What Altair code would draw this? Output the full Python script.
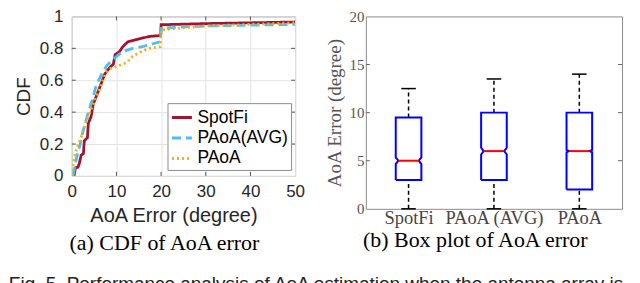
import altair as alt
import pandas as pd

# ---------------- data ----------------
series_names = ["SpotFi", "PAoA(AVG)", "PAoA"]
series_colors = ["#A2142F", "#4DBEEE", "#EDB120"]
series_dash = [[1, 0], [9, 5], [2, 3]]

spotfi_x = [0.5, 0.8, 1.4, 1.7, 2.1, 2.6, 2.8, 3.5, 3.7, 4.3, 4.8, 5.9, 6.6, 7.4, 8.5, 9.3, 9.7, 10.7, 11.4, 12.5, 15.2, 17.4, 19.9, 20.0, 30.0, 40.0, 50.0]
spotfi_y = [0.0, 0.05, 0.055, 0.08, 0.13, 0.14, 0.22, 0.24, 0.33, 0.37, 0.45, 0.53, 0.58, 0.64, 0.68, 0.70, 0.76, 0.78, 0.81, 0.84, 0.86, 0.875, 0.88, 0.948, 0.955, 0.96, 0.965]

avg_x = [0.3, 0.7, 1.2, 1.8, 2.5, 3.6, 4.5, 5.5, 6.7, 7.8, 9.2, 11.4, 13.6, 15.8, 19.0, 19.8, 20.0, 25.0, 30.0, 40.0, 50.0]
avg_y = [0.0, 0.06, 0.13, 0.19, 0.28, 0.39, 0.47, 0.57, 0.64, 0.69, 0.73, 0.78, 0.80, 0.81, 0.835, 0.84, 0.925, 0.935, 0.94, 0.945, 0.95]

paoa_x = [0.0, 0.3, 1.0, 2.2, 3.3, 4.8, 6.3, 7.7, 8.8, 10.0, 12.2, 13.6, 15.2, 17.4, 19.8, 20.0, 25.6, 30.0, 40.0, 50.0]
paoa_y = [0.0, 0.08, 0.165, 0.25, 0.35, 0.45, 0.55, 0.65, 0.675, 0.685, 0.71, 0.75, 0.775, 0.80, 0.81, 0.915, 0.93, 0.94, 0.95, 0.96]

cdf_x_ticks = [0, 10, 20, 30, 40, 50]
cdf_y_ticks = [0, 0.2, 0.4, 0.6, 0.8, 1]

box_cats = ["SpotFi", "PAoA (AVG)", "PAoA"]
box_q1 = [3, 3, 2]
box_med = [5, 6, 6]
box_q3 = [9.5, 10, 10]
box_lo = [0, 0, 0]
box_hi = [12.5, 13.5, 14]
box_notch = [0.35, 0.35, 0.12]
box_y_ticks = [0, 5, 10, 15, 20]

SANS = "Liberation Sans"
SERIF = "Liberation Serif"

# ---------------- left: CDF ----------------
rows = []
for name, xs, ys in [(series_names[0], spotfi_x, spotfi_y),
                     (series_names[1], avg_x, avg_y),
                     (series_names[2], paoa_x, paoa_y)]:
    for i, (a, b) in enumerate(zip(xs, ys)):
        rows.append({"err": a, "cdf": b, "method": name, "ord": i})
cdf_df = pd.DataFrame(rows)

LW, LH = 224, 160

xL = alt.X("err:Q", scale=alt.Scale(domain=[0, 50], nice=False),
           axis=alt.Axis(values=cdf_x_ticks, title="AoA Error (degree)", grid=True,
                         gridColor="#e3e3e3", ticks=False, domain=False,
                         labelOverlap=False, labelFlush=False,
                         labelFont=SANS, labelFontSize=17, labelColor="#262626",
                         labelPadding=8, titleFont=SANS, titleFontSize=20,
                         titleFontWeight="normal", titleColor="#262626",
                         titlePadding=6, titleX=102))
yL = alt.Y("cdf:Q", scale=alt.Scale(domain=[0, 1], nice=False),
           axis=alt.Axis(values=cdf_y_ticks, format="~g", title="CDF", grid=True,
                         gridColor="#e3e3e3", ticks=False, domain=False,
                         labelOverlap=False, labelFlush=False,
                         labelFont=SANS, labelFontSize=17, labelColor="#262626",
                         labelPadding=9, titleFont=SANS, titleFontSize=19,
                         titleFontWeight="normal", titleColor="#262626",
                         titlePadding=6))

leg = alt.Legend(orient="none", legendX=96, legendY=87, title=None,
                 labelFont=SANS, labelFontSize=17.5, labelColor="black",
                 symbolType="stroke", symbolSize=400, symbolStrokeWidth=3,
                 strokeColor="#8c8c8c", fillColor="white", padding=3,
                 rowPadding=0.5, labelOffset=4)

lines = alt.Chart(cdf_df).mark_line(strokeWidth=2.8, clip=True).encode(
    x=xL, y=yL,
    color=alt.Color("method:N", scale=alt.Scale(domain=series_names, range=series_colors), legend=leg),
    strokeDash=alt.StrokeDash("method:N", scale=alt.Scale(domain=series_names, range=series_dash), legend=leg),
    order="ord:Q",
)

tx = pd.DataFrame({"err": cdf_x_ticks[1:-1]})
ty = pd.DataFrame({"cdf": cdf_y_ticks[1:-1]})
tick_col = "#555555"
tb = alt.Chart(tx).mark_rule(color=tick_col, strokeWidth=1).encode(x=xL, y=alt.value(LH), y2=alt.value(LH - 4))
tt = alt.Chart(tx).mark_rule(color=tick_col, strokeWidth=1).encode(x=xL, y=alt.value(0), y2=alt.value(4))
tl = alt.Chart(ty).mark_rule(color=tick_col, strokeWidth=1).encode(y=yL, x=alt.value(0), x2=alt.value(4))
tr = alt.Chart(ty).mark_rule(color=tick_col, strokeWidth=1).encode(y=yL, x=alt.value(LW), x2=alt.value(LW - 4))

left = alt.layer(lines, tb, tt, tl, tr).properties(
    width=LW, height=LH,
    title=alt.TitleParams("(a) CDF of AoA error", orient="bottom", frame="bounds",
                          anchor="middle", font=SERIF, fontSize=22,
                          fontWeight="normal", color="black", offset=7, dx=5),
)

# ---------------- right: box plot ----------------
RW, RH = 257, 193
hw, hn, hc = 0.15, 0.12, 0.085

outline, med_rows, whisk, caps = [], [], [], []
for i, c in enumerate(box_cats):
    p = i + 1
    q1, md, q3, n = box_q1[i], box_med[i], box_q3[i], box_notch[i]
    pts = [(p - hw, q1), (p - hw, md - n), (p - hn, md), (p - hw, md + n), (p - hw, q3),
           (p + hw, q3), (p + hw, md + n), (p + hn, md), (p + hw, md - n), (p + hw, q1), (p - hw, q1)]
    for k, (a, b) in enumerate(pts):
        outline.append({"px": a, "py": b, "cat": c, "ord": k})
    med_rows.append({"px": p - hn, "px2": p + hn, "py": md})
    whisk.append({"px": p, "py": q3, "py2": box_hi[i]})
    whisk.append({"px": p, "py": box_lo[i], "py2": q1})
    caps.append({"px": p - hc, "px2": p + hc, "py": box_hi[i]})
    caps.append({"px": p - hc, "px2": p + hc, "py": box_lo[i]})

label_expr = " : ".join(
    [f"datum.value == {i + 1} ? '{c}'" for i, c in enumerate(box_cats[:-1])] + [f"'{box_cats[-1]}'"]
)

xR = alt.X("px:Q", scale=alt.Scale(domain=[0.5, 3.5], nice=False, zero=False),
           axis=alt.Axis(values=[1, 2, 3], labelExpr=label_expr, title=None, ticks=False,
                         domain=False, grid=False, labelOverlap=False, labelFlush=False,
                         labelFont=SERIF, labelFontSize=18.5,
                         labelColor="#454545", labelPadding=0))
yR = alt.Y("py:Q", scale=alt.Scale(domain=[0, 20], nice=False),
           axis=alt.Axis(values=box_y_ticks, title="AoA Error (degree)", grid=False,
                         ticks=False, domain=False, labelOverlap=False, labelFlush=False,
                         labelFont=SERIF, labelFontSize=15,
                         labelColor="#555555", labelPadding=2, titleFont=SERIF,
                         titleFontSize=19, titleFontWeight="normal", titleColor="#555555",
                         titlePadding=4))

box_line = alt.Chart(pd.DataFrame(outline)).mark_line(color="#0000FF", strokeWidth=2).encode(
    x=xR, y=yR, detail="cat:N", order="ord:Q")
med_rule = alt.Chart(pd.DataFrame(med_rows)).mark_rule(color="#FF0000", strokeWidth=2).encode(
    x=xR, x2="px2:Q", y=yR)
wh_rule = alt.Chart(pd.DataFrame(whisk)).mark_rule(color="black", strokeWidth=1.5, strokeDash=[4, 3]).encode(
    x=xR, y=yR, y2="py2:Q")
cap_rule = alt.Chart(pd.DataFrame(caps)).mark_rule(color="black", strokeWidth=1.5).encode(
    x=xR, x2="px2:Q", y=yR)
rt = pd.DataFrame({"py": box_y_ticks[1:-1]})
rtl = alt.Chart(rt).mark_rule(color="#666666", strokeWidth=1).encode(y=yR, x=alt.value(0), x2=alt.value(4))
rtr = alt.Chart(rt).mark_rule(color="#666666", strokeWidth=1).encode(y=yR, x=alt.value(RW), x2=alt.value(RW - 4))

right = alt.layer(wh_rule, cap_rule, box_line, med_rule, rtl, rtr).properties(
    width=RW, height=RH,
    title=alt.TitleParams("(b) Box plot of AoA error", orient="bottom", frame="bounds",
                          anchor="middle", font=SERIF, fontSize=22,
                          fontWeight="normal", color="black", offset=3, dx=1),
)

chart = alt.hconcat(left, right, spacing=20).properties(
    padding={"left": 0, "top": -2, "right": 0, "bottom": 0},
    title=alt.TitleParams("Fig. 5.  Performance analysis of AoA estimation when the antenna array is",
                          orient="bottom", anchor="start", font=SANS, fontSize=19,
                          fontWeight="normal", color="#222222", offset=21, dx=-5),
).configure_view(stroke="#8c8c8c", strokeWidth=1)

chart.save("out.html", embed_options={"renderer": "svg", "actions": False})
